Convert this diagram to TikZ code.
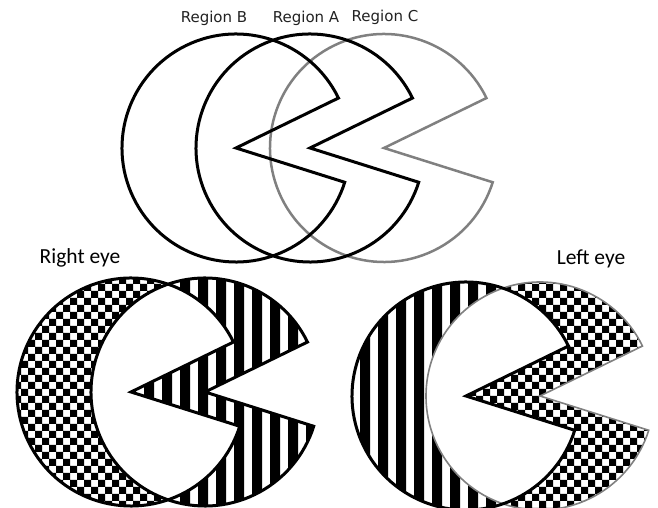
\documentclass[tikz,border=0pt]{standalone}
\usepackage{fontspec}
\setmainfont{DejaVu Sans}
\newfontfamily\eyefont{Carlito}
\definecolor{regc}{HTML}{808080}
\definecolor{lblc}{HTML}{222222}

\begin{document}
\begin{tikzpicture}[
  x=1pt, y=1pt,
  pac/.style={insert path={(#1) -- ++(26:114pt)
      arc[start angle=26, end angle=342.5, radius=114pt] -- cycle}},
  disc/.style={insert path={(#1) circle[radius=114pt]}},
  checkgrid/.style={insert path={
      foreach \k in {0,...,47} {(\k*14,0) rectangle ++(7,508)}
      foreach \k in {0,...,36} {(0,\k*14) rectangle ++(658,7)}}},
  bargrid/.style={insert path={
      foreach \k in {0,...,36} {(\k*18,0) rectangle ++(10,508)}}},
  blk/.style={draw=black, line width=3pt},
  gry/.style={draw=regc, line width=2.5pt},
  thingry/.style={draw=regc, line width=1.6pt},
  lbl/.style={font=\fontsize{15}{18}\selectfont, text=lblc, anchor=base, inner sep=0pt},
  eyelbl/.style={font=\eyefont\fontsize{21.5}{25}\selectfont, anchor=base, inner sep=0pt},
]

% ---- canvas ----
\fill[white] (0,0) rectangle (658,508);
\useasboundingbox (0,0) rectangle (658,508);

% ---- centres ----
\coordinate (tB) at (236,360);
\coordinate (tA) at (310,360);
\coordinate (tC) at (384,360);
\coordinate (rB) at (131,116);
\coordinate (rA) at (205,116);
\coordinate (lA) at (466,112);
\coordinate (lC) at (540,112);

% ---- top: the three regions ----
\draw[gry, pac=tC];
\draw[blk, pac=tA];
\draw[blk, pac=tB];
\node[lbl] (labB) at (214,485) {Region B};
\node[lbl] (labA) at (306,485) {Region A};
\node[lbl] (labC) at (385,486) {Region C};

% ---- right eye: B checked, A barred ----
\begin{scope}
  \clip[pac=rB];
  \fill[even odd rule, checkgrid];
\end{scope}
\begin{scope}
  \clip[pac=rA];
  \fill[white, pac=rA];
  \fill[bargrid];
\end{scope}
\begin{scope}
  \clip[disc=rA];
  \fill[white, pac=rB];
\end{scope}
\draw[blk, pac=rB];
\draw[blk, pac=rA];
\node[eyelbl] (reye) at (80,244) {Right eye};

% ---- left eye: A barred, C checked ----
\begin{scope}
  \clip[pac=lA];
  \fill[bargrid];
\end{scope}
\begin{scope}
  \clip[pac=lC];
  \fill[white, pac=lC];
  \fill[even odd rule, checkgrid];
\end{scope}
\begin{scope}
  \clip[disc=lC];
  \fill[white, pac=lA];
\end{scope}
\draw[thingry, pac=lC];
\draw[blk, pac=lA];
\node[eyelbl] (leye) at (591,243) {Left eye};
\end{tikzpicture}
\end{document}
